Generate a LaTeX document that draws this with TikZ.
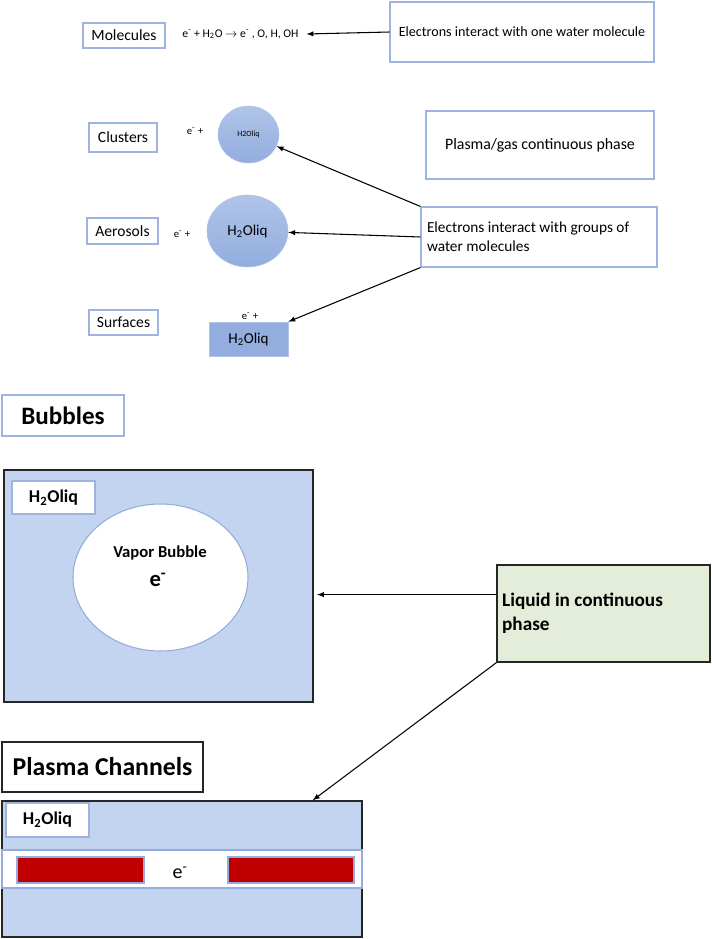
\documentclass[tikz,border=0pt]{standalone}
\usepackage{fontspec}
\setmainfont{Carlito}
\definecolor{boxblue}{RGB}{156,180,222}
\definecolor{dropblue}{RGB}{146,173,222}
\definecolor{droplight}{RGB}{176,196,232}
\definecolor{liqblue}{RGB}{194,212,239}
\definecolor{liqgreen}{RGB}{228,236,218}
\definecolor{barred}{RGB}{192,0,0}
\definecolor{edgegray}{RGB}{38,38,38}
\usetikzlibrary{arrows}
\usetikzlibrary{shapes.geometric}

\tikzset{
  bluebox/.style={draw=boxblue, fill=white, line width=0.8pt, inner sep=0pt},
  drop/.style={ellipse, draw=droplight, top color=droplight, bottom color=dropblue, inner sep=0pt},
  darkbox/.style={draw=edgegray, line width=1pt, inner sep=0pt},
  link/.style={-latex, line width=0.8pt},
}

\begin{document}
\begin{tikzpicture}[x=0.75pt,y=0.75pt,yscale=-1,xscale=1]
\useasboundingbox (0,0) rectangle (712,939);

%Shape: Rectangle [molecules]
\node [bluebox, minimum width=61.5pt, minimum height=18.75pt, font=\fontsize{11.7}{13}\selectfont] (molbox) at (124,35.5) {Molecules};
% Text Node
\node [font=\fontsize{8.8}{10}\selectfont, inner sep=1pt, outer sep=5pt] (eqn) at (240.5,34) {e\textsuperscript{-} + H\textsubscript{2}O $\rightarrow$ e\textsuperscript{-} , O, H, OH};
%Shape: Rectangle [one water molecule]
\node [bluebox, minimum width=198pt, minimum height=45pt, font=\fontsize{10.6}{12}\selectfont] (onebox) at (522,32) {Electrons interact with one water molecule};

%Shape: Rectangle [clusters]
\node [bluebox, minimum width=51pt, minimum height=21.75pt, font=\fontsize{11.7}{13}\selectfont] (clubox) at (123,137.5) {Clusters};
% Text Node
\node [font=\fontsize{8}{10}\selectfont] (cluel) at (195,131) {e\textsuperscript{-} +};
%Shape: Circle [cluster]
\node [drop, minimum width=45.75pt, minimum height=42.75pt, font=\fontsize{6}{7}\selectfont] (cluster) at (248.5,134.5) {H2Oliq};

%Shape: Rectangle [gas phase]
\node [bluebox, minimum width=171pt, minimum height=51pt, font=\fontsize{11.9}{13}\selectfont] (gasbox) at (540,145) {Plasma/gas continuous phase};

%Shape: Rectangle [aerosols]
\node [bluebox, minimum width=53.25pt, minimum height=19.5pt, font=\fontsize{11.7}{13}\selectfont] (aerbox) at (122.5,231) {Aerosols};
% Text Node
\node [font=\fontsize{8}{10}\selectfont] (aerel) at (182,234) {e\textsuperscript{-} +};
%Shape: Circle [aerosol]
\node [drop, minimum width=60.75pt, minimum height=54pt, font=\fontsize{11.3}{12}\selectfont] (aerosol) at (247.5,231) {H\textsubscript{2}Oliq};

%Shape: Rectangle [groups of molecules]
\node [bluebox, minimum width=177pt, minimum height=45pt, text width=168pt, align=flush left, font=\fontsize{11.5}{14.5}\selectfont] (groups) at (539,237) {Electrons interact with groups of\\water molecules};

%Shape: Rectangle [surfaces]
\node [bluebox, minimum width=51.75pt, minimum height=18.75pt, font=\fontsize{11.7}{13}\selectfont] (surbox) at (123.5,322.5) {Surfaces};
% Text Node
\node [font=\fontsize{8}{10}\selectfont] (surel) at (250,316) {e\textsuperscript{-} +};
%Shape: Rectangle [surface]
\node [draw=droplight, fill=dropblue, inner sep=0pt, minimum width=59.25pt, minimum height=25.5pt, font=\fontsize{11.3}{12}\selectfont] (surface) at (248.5,339) {H\textsubscript{2}Oliq};

%Straight Lines [arrows to the top boxes]
\draw [link] (onebox.west) -- (eqn.east) ;
\draw [link] (groups.north west) -- (cluster) ;
\draw [link] (groups.west) -- (aerosol) ;
\draw [link] (groups.south west) -- (surface.north east) ;

%Shape: Rectangle [bubbles title]
\node [bluebox, line width=1.2pt, minimum width=91.5pt, minimum height=30.75pt, font=\fontsize{18.8}{22}\selectfont\bfseries] (bubtitle) at (63,415.5) {Bubbles};
%Shape: Rectangle [bubbles liquid]
\node [darkbox, fill=liqblue, minimum width=231.75pt, minimum height=174pt, outer sep=3pt] (bubblebox) at (158.5,586) {};
%Shape: Rectangle [label]
\node [bluebox, line width=1.2pt, minimum width=62.25pt, minimum height=24.75pt, font=\fontsize{13.5}{15}\selectfont\bfseries] (bublabel) at (53.5,497.5) {H\textsubscript{2}Oliq};
%Shape: Ellipse [vapor bubble]
\node [ellipse, draw=dropblue, fill=white, line width=0.8pt, inner sep=0pt, minimum width=131.25pt, minimum height=110.25pt] (vapor) at (160.5,577.5) {};
% Text Node
\node [font=\fontsize{12.5}{14}\selectfont\bfseries] (vaportxt) at (160,553) {Vapor Bubble};
% Text Node
\node [font=\fontsize{17}{20}\selectfont\bfseries] (vaporel) at (158,580) {e\textsuperscript{-}};

%Shape: Rectangle [continuous liquid]
\node [darkbox, fill=liqgreen, minimum width=159.75pt, minimum height=72.75pt, text width=152pt, align=flush left, font=\fontsize{14.4}{18}\selectfont\bfseries] (liquid) at (603.5,613.5) {Liquid in continuous\\phase};

%Shape: Rectangle [channels title]
\node [darkbox, line width=0.8pt, fill=white, minimum width=150.75pt, minimum height=37.5pt, font=\fontsize{19.3}{22}\selectfont\bfseries] (chantitle) at (102.5,767) {Plasma Channels};
%Shape: Rectangle [channels liquid]
\node [darkbox, fill=liqblue, minimum width=270pt, minimum height=102pt] (chanbox) at (182,869) {};
%Shape: Rectangle [white band]
\node [draw=dropblue, fill=white, line width=0.8pt, inner sep=0pt, minimum width=270pt, minimum height=28.5pt] (band) at (182,869) {};
%Shape: Rectangle [label]
\node [bluebox, line width=1pt, minimum width=62.25pt, minimum height=25.5pt, font=\fontsize{13.5}{15}\selectfont\bfseries] (chanlabel) at (47.5,820) {H\textsubscript{2}Oliq};
%Shape: Rectangle [left channel]
\node [draw=dropblue, fill=barred, line width=0.8pt, inner sep=0pt, minimum width=95.25pt, minimum height=19.5pt] (redleft) at (80.5,870) {};
%Shape: Rectangle [right channel]
\node [draw=dropblue, fill=barred, line width=0.8pt, inner sep=0pt, minimum width=94.5pt, minimum height=19.5pt] (redright) at (291,870) {};
% Text Node
\node [font=\fontsize{15}{18}\selectfont] (chanel) at (180,873) {e\textsuperscript{-}};

%Straight Lines [arrows from the liquid box]
\coordinate (chantip) at ([xshift=-37.5pt]chanbox.north east);
\draw [link] (liquid.170) -- (liquid.170 -| bubblebox.east) ;
\draw [link] (liquid.south west) -- (chantip) ;

\end{tikzpicture}
\end{document}
